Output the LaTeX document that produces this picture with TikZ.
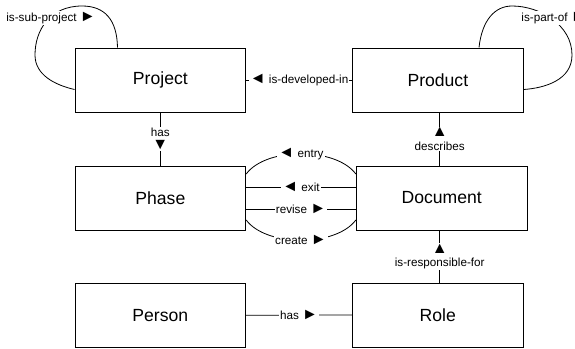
\documentclass[tikz,border=0pt]{standalone}
\usepackage{fontspec}
\setmainfont{Liberation Sans}
\usetikzlibrary{calc}
% direction marks of the relation labels, set a little larger than the text
\newcommand\dirmark[1]{{\fontsize{16}{13.3}\selectfont #1}}
\begin{document}
\begin{tikzpicture}[x=1pt,y=-1pt,
  entity/.style={draw=black, line width=1pt, minimum width=170.7pt, minimum height=64pt,
    inner sep=0pt, font=\fontsize{17.6}{20}\selectfont},
  link/.style={draw=black, line width=0.8pt},
  rel/.style={fill=white, inner sep=1pt, align=center, font=\fontsize{11.7}{13.3}\selectfont},
]
\useasboundingbox (0,0) rectangle (575,348);

% entities
\node[entity] (project)  at (160.35,80)  {Project};
\node[entity] (product)  at (437.85,80)  {Product};
\node[entity] (phase)    at (160.35,198) {Phase};
\node[entity] (document) at (441.7,198)  {Document};
\node[entity] (person)   at (160.35,315.3) {Person};
\node[entity] (role)     at (437.7,315)  {Role};

% x position of the vertical links into Document
\coordinate (doclink) at (439.7,0);

% self-referencing relations
\draw[link] ($(project.north west)+(43,0)$)
  .. controls (117,20) and (105,6) .. (82,6)
  .. controls (50,6) and (35,30) .. (35,55)
  .. controls (35,75) and (55,85) .. ($(project.north west)+(0,42)$)
  node[rel, anchor=west] at (5,18) {is-sub-project \dirmark{►}};

\draw[link] ($(product.north west)+(127,0)$)
  .. controls (482,20) and (495,6) .. (512,6)
  .. controls (540,6) and (572,25) .. (572,55)
  .. controls (572,80) and (545,88) .. ($(product.north east)+(0,42)$)
  node[rel, anchor=west] at (520,18) {is-part-of \dirmark{►}};

% binary relations
\draw[link] (project.east) -- node[rel] {\dirmark{◄} is-developed-in} (product.west);
\draw[link] (project.south) -- node[rel] {has\\\dirmark{▼}} (phase.north);
\draw[link] (product.south -| doclink) -- node[rel] {\dirmark{▲}\\describes} (document.north -| doclink);
\draw[link] (role.north -| doclink) -- node[rel] {\dirmark{▲}\\is-responsible-for} (document.south -| doclink);
\draw[link] (person.east) -- node[rel] {has \dirmark{►}} (role.west);

% relations between Phase and Document
\draw[link] ($(phase.east)+(0,-24)$) .. controls +(20,-27) and +(-20,-27) ..
  node[rel] {\dirmark{◄} entry} ($(document.west)+(0,-24)$);
\draw[link] ($(phase.east)+(0,-11)$) -- node[rel] {\dirmark{◄} exit} ($(document.west)+(0,-11)$);
\draw[link] ($(phase.east)+(0,11)$) -- node[rel] {revise \dirmark{►}} ($(document.west)+(0,11)$);
\draw[link] ($(phase.east)+(0,22)$) .. controls +(20,27) and +(-20,27) ..
  node[rel] {create \dirmark{►}} ($(document.west)+(0,22)$);
\end{tikzpicture}
\end{document}
